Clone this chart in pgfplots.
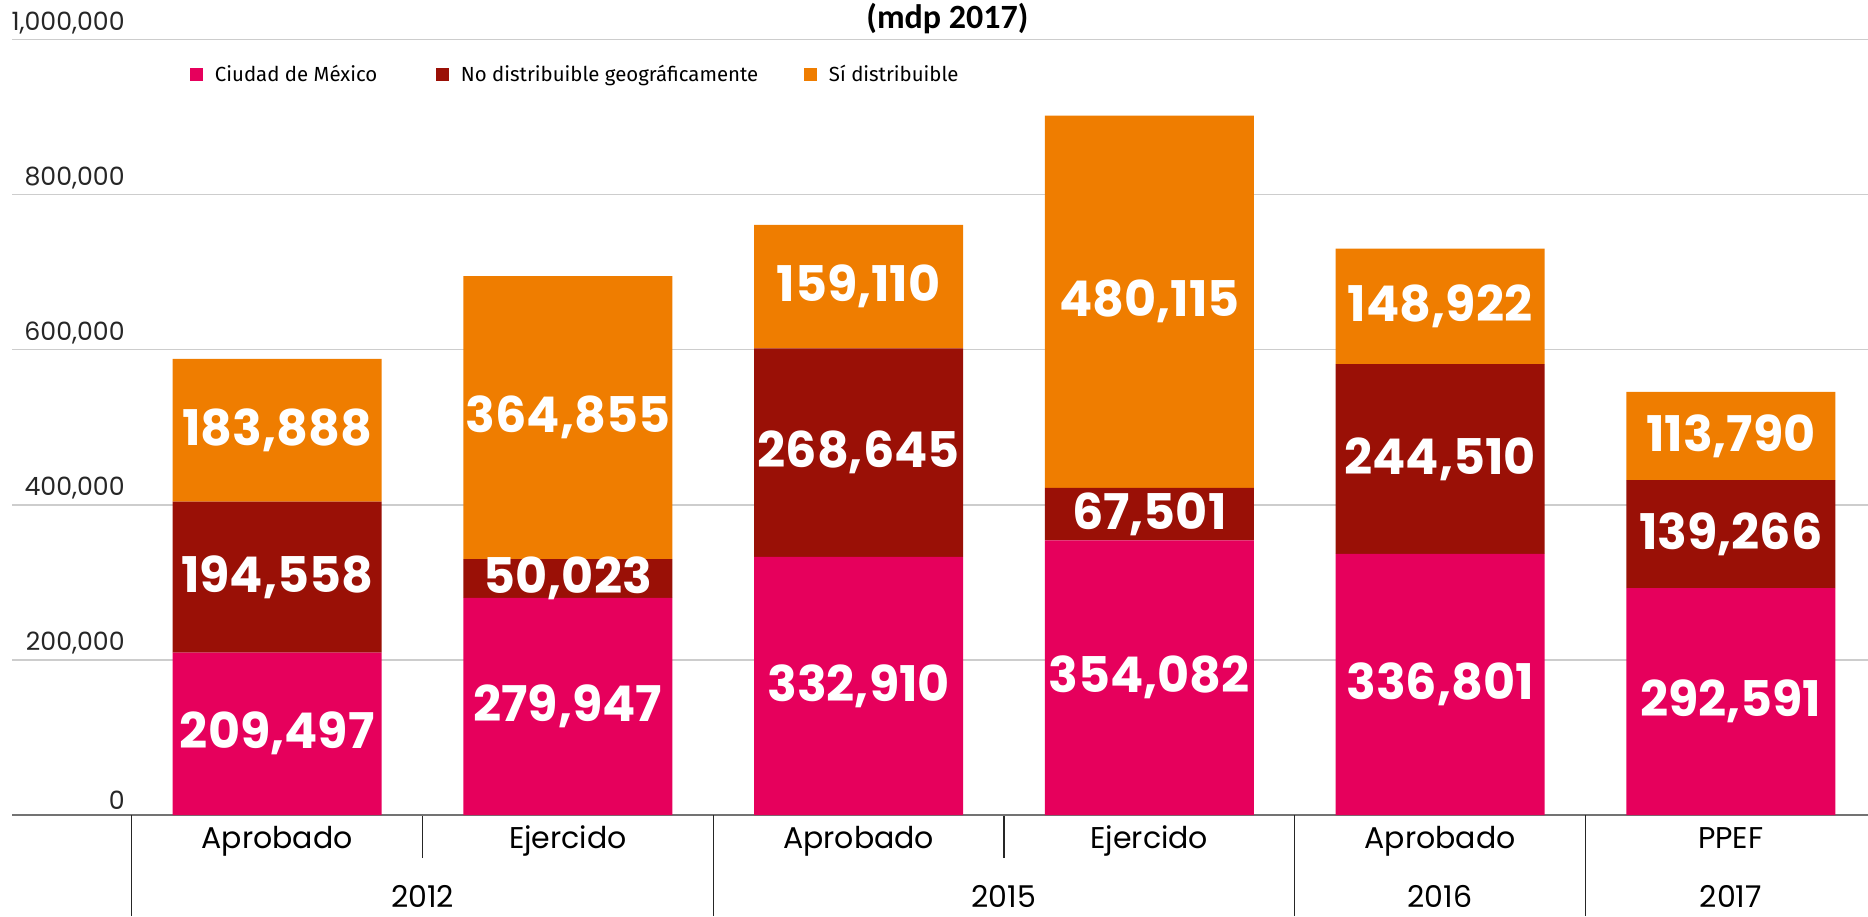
\documentclass[border=0pt]{standalone}
\usepackage{fontspec}
\setmainfont{Poppins}
\newfontfamily\titlefont{Carlito}
\newfontfamily\legfont{Fira Sans}
\usepackage{pgfplots}
\pgfplotsset{compat=1.18}
\definecolor{cdmx}{HTML}{E6005C}
\definecolor{nodist}{HTML}{9A1006}
\definecolor{sidist}{HTML}{EF7D00}
\definecolor{gridc}{HTML}{CDCDCD}
\begin{document}
\begin{tikzpicture}
\begin{axis}[
  at={(6pt,50.5pt)}, anchor=south west,
  scale only axis, width=928pt, height=407.5pt,
  xmin=-0.912, xmax=5.472, ymin=0, ymax=1050700,
  ybar stacked, bar width=104.5pt,
  clip=false,
  axis lines*=left,
  y axis line style={draw=none},
  x axis line style={draw=black!55, line width=1.3pt},
  ymajorgrids, grid style={gridc, line width=0.8pt},
  ytick={0,200000,400000,600000,800000,1000000},
  scaled y ticks=false,
  /pgf/number format/fixed,
  /pgf/number format/1000 sep={,},
  /pgf/number format/assume math mode=true,
  ytick style={draw=none},
  yticklabel style={anchor=south east, inner sep=0pt, xshift=56.5pt, yshift=2.5pt,
    font=\fontsize{12.6}{14}\selectfont, text=black!85},
  xtick={0,1,2,3,4,5},
  xticklabels={Aprobado,Ejercido,Aprobado,Ejercido,Aprobado,PPEF},
  xticklabel style={anchor=base, yshift=-16.8pt, font=\fontsize{15}{18}\selectfont, text=black},
  major tick length=0pt,
  tick align=outside,
  xtick pos=bottom,
  minor xtick={0.5,2.5},
  minor tick length=21.5pt,
  x tick style={draw=black!85, line width=0.7pt},
  extra x ticks={-0.5,1.5,3.5,4.5},
  extra x tick labels={},
  extra x tick style={major tick length=50.5pt},
  legend columns=3,
  legend style={at={(0.0959,0.908)}, anchor=west, draw=none, fill=none,
    inner sep=0pt, outer sep=0pt, nodes={inner sep=0pt}, cells={anchor=west},
    column sep=0pt, font=\legfont\fontsize{10.2}{12}\selectfont},
  legend image code/.code={\fill[#1] (0pt,-3.25pt) rectangle (6.5pt,3.25pt);},
  nodes near coords,
  nodes near coords style={anchor=center, text=white, inner sep=0pt,
    font=\bfseries\fontsize{24.6}{28}\selectfont},
]
\addplot[fill=cdmx, draw=none] coordinates {(0,209497) (1,279947) (2,332910) (3,354082) (4,336801) (5,292591)};
\addplot[fill=nodist, draw=none] coordinates {(0,194558) (1,50023) (2,268645) (3,67501) (4,244510) (5,139266)};
\addplot[fill=sidist, draw=none] coordinates {(0,183888) (1,364855) (2,159110) (3,480115) (4,148922) (5,113790)};
\addlegendentry{\hspace*{6pt}\makebox[110.5pt][l]{Ciudad de México}}
\addlegendentry{\hspace*{6pt}\makebox[171.5pt][l]{No distribuible geográficamente}}
\addlegendentry{\hspace*{6pt}Sí distribuible}
\node[font=\titlefont\bfseries\fontsize{17}{20}\selectfont] at (rel axis cs:0.504,0.9767) {(mdp 2017)};
\node[anchor=base, yshift=-46pt, font=\fontsize{15}{18}\selectfont] at (axis cs:0.5,0) {2012};
\node[anchor=base, yshift=-46pt, font=\fontsize{15}{18}\selectfont] at (axis cs:2.5,0) {2015};
\node[anchor=base, yshift=-46pt, font=\fontsize{15}{18}\selectfont] at (axis cs:4,0) {2016};
\node[anchor=base, yshift=-46pt, font=\fontsize{15}{18}\selectfont] at (axis cs:5,0) {2017};
\end{axis}
\pgfresetboundingbox
\path[use as bounding box] (0,0) rectangle (934pt,458pt);
\end{tikzpicture}
\end{document}
